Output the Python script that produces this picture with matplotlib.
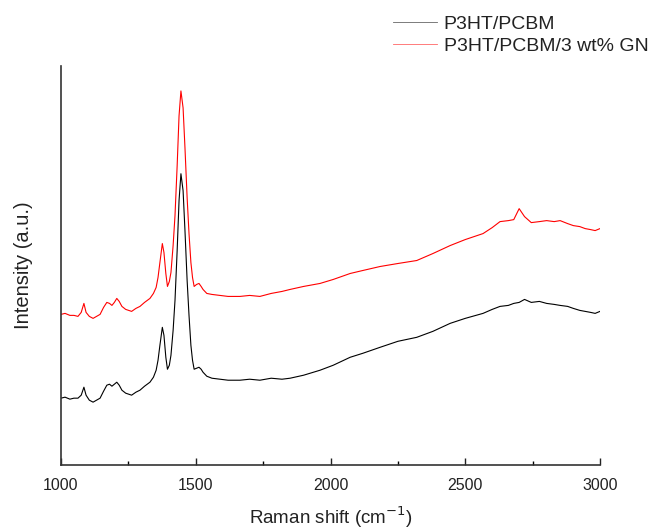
import matplotlib
matplotlib.use("Agg")
import matplotlib.pyplot as plt
from matplotlib.ticker import MultipleLocator

plt.rcParams['font.family'] = ['Liberation Sans', 'DejaVu Sans']

# Raman shift (cm-1) and intensity (a.u.)
shift = [1000, 1015, 1033, 1048, 1063, 1075, 1085, 1093, 1105, 1119, 1132, 1145, 1158, 1170, 1180,
         1189, 1198, 1207, 1216, 1226, 1240, 1262, 1278, 1293, 1310, 1330, 1343, 1353, 1360, 1367,
         1376, 1382, 1389, 1395, 1402, 1408, 1416, 1423, 1431, 1438, 1445, 1453, 1460, 1468, 1475,
         1482, 1488, 1494, 1503, 1512, 1520, 1527, 1541, 1560, 1590, 1620, 1664, 1700, 1738, 1780,
         1820, 1850, 1900, 1961, 2010, 2073, 2120, 2184, 2250, 2320, 2380, 2444, 2500, 2566, 2600,
         2629, 2660, 2680, 2700, 2720, 2745, 2775, 2802, 2830, 2852, 2880, 2901, 2925, 2945, 2965,
         2982, 3000]

p3ht_pcbm = [67, 68, 66, 67, 67, 70, 78, 70, 65, 63, 65, 67, 74, 80, 81,
             79, 81, 83, 80, 75, 72, 70, 73, 75, 79, 83, 88, 95, 105, 120,
             138, 130, 108, 96, 100, 110, 135, 165, 215, 265, 292, 275, 235, 185, 150,
             120, 105, 96, 97, 98, 96, 93, 89, 87, 86, 85, 85, 86, 85, 87,
             86, 87, 90, 95, 100, 108, 112, 118, 124, 128, 134, 142, 147, 152, 156,
             159, 160, 162, 163, 166, 163, 164, 162, 161, 160, 159, 157, 155, 154, 153,
             152, 154]

p3ht_pcbm_gn = [151, 152, 150, 150, 149, 153, 162, 153, 149, 147, 149, 151, 158, 163, 162,
                160, 163, 167, 164, 159, 156, 154, 157, 159, 163, 167, 172, 178, 188, 203,
                222, 213, 192, 179, 184, 193, 220, 250, 300, 350, 375, 358, 318, 268, 232,
                203, 188, 179, 181, 182, 179, 176, 172, 171, 170, 169, 169, 170, 169, 172,
                174, 176, 179, 182, 186, 192, 195, 199, 202, 205, 212, 220, 226, 232, 238,
                244, 245, 246, 257, 249, 243, 244, 245, 244, 245, 242, 240, 239, 237, 236,
                235, 237]

fig = plt.figure(figsize=(6.52, 5.30), dpi=100)
ax = fig.add_axes([61/652, 65/530, 539/652, 399/530])

l1, = ax.plot(shift, p3ht_pcbm, color="black", lw=0.8, label="P3HT/PCBM")
l2, = ax.plot(shift, p3ht_pcbm_gn, color="red", lw=0.8, label="P3HT/PCBM/3 wt% GN")

ax.set_xlim(1000, 3000)
ax.set_ylim(0, 400)
ax.xaxis.set_major_locator(MultipleLocator(500))
ax.xaxis.set_minor_locator(MultipleLocator(250))
ax.tick_params(axis="x", which="major", direction="in", length=5, width=1, labelsize=11.5,
               colors="#222222", pad=9)
ax.tick_params(axis="x", which="minor", direction="in", length=3, width=1)
ax.set_yticks([])
for s in ["top", "right"]:
    ax.spines[s].set_visible(False)
for s in ["left", "bottom"]:
    ax.spines[s].set_color("#333333")
    ax.spines[s].set_linewidth(1.2)

ax.set_xlabel("Raman shift (cm$^{-1}$)", fontsize=13.5, color="#222222", labelpad=9)
ax.set_ylabel("Intensity (a.u.)", fontsize=14.5, color="#222222", labelpad=20)

leg = fig.legend(handles=[l1, l2], loc="upper left", bbox_to_anchor=(393/652, 1 - 15/530),
                 frameon=False, fontsize=14, handlelength=2.25, handletextpad=0.36,
                 labelspacing=0.25, borderpad=0, borderaxespad=0)
for t in leg.get_texts():
    t.set_color("#222222")
for h in leg.legend_handles:
    h.set_linewidth(0.6)
    h.set_alpha(0.6)

fig.savefig("out.png", dpi=100)
